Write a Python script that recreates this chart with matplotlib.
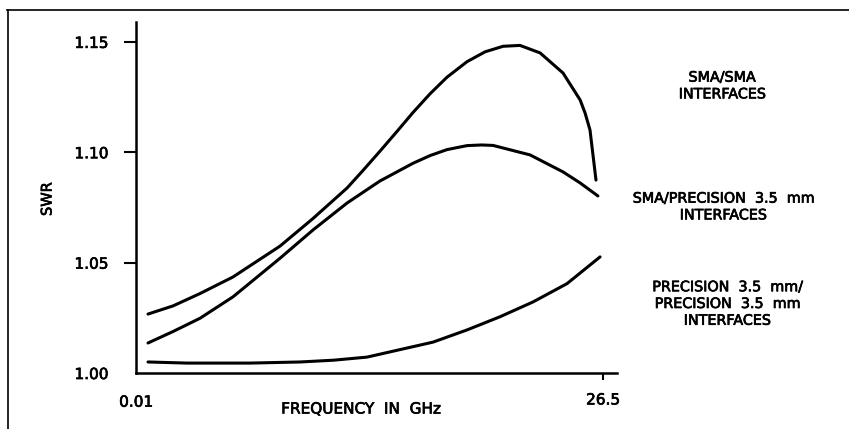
import matplotlib
matplotlib.use("Agg")
import matplotlib.pyplot as plt
import matplotlib.patheffects as pe
from matplotlib.lines import Line2D

plt.rcParams['font.family'] = ['DejaVu Sans']

# SWR vs frequency (GHz) for the three connector pairings
sma_sma_freq = [0.69, 2.11, 3.64, 5.51, 8.18, 10.05, 11.98, 12.89, 13.85, 14.82, 15.72,
                16.69, 17.65, 18.78, 19.81, 20.83, 21.79, 22.93, 24.23, 25.20, 25.48,
                25.76, 26.10]
sma_sma_swr = [1.0267, 1.0304, 1.0360, 1.0435, 1.0575, 1.0700, 1.0838, 1.0918, 1.1005,
               1.1095, 1.1180, 1.1265, 1.1340, 1.1410, 1.1455, 1.1480, 1.1484, 1.1450,
               1.1359, 1.1237, 1.1178, 1.1101, 1.0874]

sma_prec_freq = [0.69, 2.11, 3.64, 5.51, 8.18, 10.05, 11.98, 13.85, 15.72, 16.69, 17.65,
                 18.78, 19.60, 20.26, 22.36, 24.23, 25.20, 26.21]
sma_prec_swr = [1.0136, 1.0188, 1.0248, 1.0345, 1.0520, 1.0648, 1.0770, 1.0870, 1.0950,
                1.0985, 1.1012, 1.1030, 1.1033, 1.1031, 1.0988, 1.0911, 1.0861, 1.0802]

prec_prec_freq = [0.69, 2.90, 6.48, 9.31, 11.20, 13.11, 16.86, 18.78, 20.66, 22.53,
                  24.46, 26.33]
prec_prec_swr = [1.0050, 1.0045, 1.0045, 1.0050, 1.0058, 1.0072, 1.0140, 1.0195, 1.0255,
                 1.0322, 1.0405, 1.0526]

y_ticks = [1.00, 1.05, 1.10, 1.15]
y_tick_labels = ["1.00", "1.05", "1.10", "1.15"]
x_ticks = [26.5]
x_tick_labels = ["26.5"]

labels = ["SMA/SMA\nINTERFACES",
          "SMA/PRECISION  3.5  mm\nINTERFACES",
          "PRECISION  3.5  mm/\nPRECISION  3.5  mm\nINTERFACES"]

# slightly heavier lettering
heavy = [pe.withStroke(linewidth=0.5, foreground='black')]

fig = plt.figure(figsize=(8.49, 4.29), dpi=100)
ax = fig.add_axes([0.1602, 0.1305, 0.5665, 0.8182])

for f, s in [(sma_sma_freq, sma_sma_swr), (sma_prec_freq, sma_prec_swr),
             (prec_prec_freq, prec_prec_swr)]:
    ax.plot(f, s, color='black', lw=2.2, solid_capstyle='round', solid_joinstyle='round')

ax.set_xlim(0.01, 27.29)
ax.set_ylim(1.0, 1.159)

for spine in ('top', 'right'):
    ax.spines[spine].set_visible(False)
for spine in ('left', 'bottom'):
    ax.spines[spine].set_linewidth(1.8)

ax.set_yticks(y_ticks)
ax.set_yticklabels(y_tick_labels, fontsize=11, path_effects=heavy)
ax.tick_params(axis='y', length=9, width=1.5, pad=11)
ax.yaxis.get_major_ticks()[0].tick1line.set_visible(False)

ax.set_xticks(x_ticks)
ax.set_xticklabels(x_tick_labels, fontsize=11, path_effects=heavy)
ax.tick_params(axis='x', length=5, width=1.5, pad=9)

# left end of the frequency axis
ax.text(0.01, -0.083, "0.01", transform=ax.get_xaxis_transform(), fontsize=11,
        ha='center', va='center', path_effects=heavy)
fig.text(361 / 849, 1 - 409 / 429, "FREQUENCY  IN  GHz", fontsize=11,
         ha='center', va='center', path_effects=heavy)
fig.text(47 / 849, 1 - 199 / 429, "SWR", fontsize=10.5, rotation=90,
         ha='center', va='center', path_effects=heavy)

label_pos = [(722, 86), (723, 207), (727, 304)]
for txt, (px, py) in zip(labels, label_pos):
    fig.text(px / 849, 1 - py / 429, txt, fontsize=10.3, ha='center', va='center',
             linespacing=1.25, path_effects=heavy)

# outer frame, top and left edges only
fig.add_artist(Line2D([7 / 849, 1.0], [1 - 10 / 429, 1 - 10 / 429],
                      transform=fig.transFigure, color='black', lw=1.2))
fig.add_artist(Line2D([8 / 849, 8 / 849], [0.0, 1 - 10 / 429],
                      transform=fig.transFigure, color='black', lw=1.2))

fig.savefig("out.png", dpi=100)
